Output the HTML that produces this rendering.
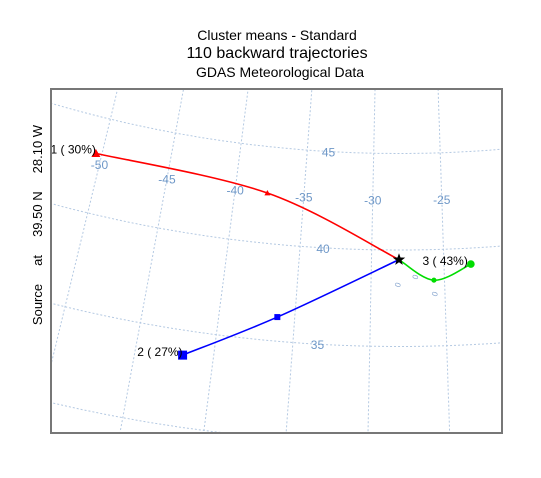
<!DOCTYPE html>
<html><head><meta charset="utf-8"><style>
html,body{margin:0;padding:0;background:#fff;overflow:hidden;width:541px;height:478px;}
svg{display:block;font-family:"Liberation Sans",Arial,sans-serif;}
</style></head><body>
<svg id="chart" width="541" height="478" viewBox="0 0 541 478">
<text x="277" y="40" font-size="14" text-anchor="middle">Cluster means - Standard</text>
<text x="277" y="58" font-size="16" text-anchor="middle">110 backward trajectories</text>
<text x="280" y="77" font-size="14" text-anchor="middle">GDAS Meteorological Data</text>
<text transform="translate(42,225) rotate(-90)" font-size="13" text-anchor="middle" xml:space="preserve">Source     at     39.50 N     28.10 W</text>
<defs><clipPath id="clip"><rect x="51" y="89" width="451" height="344"/></clipPath></defs>
<g id="grid" clip-path="url(#clip)"></g>
<g id="labels"></g>
<g id="series"></g>
<rect x="51" y="89" width="451" height="344" fill="none" stroke="#777" stroke-width="2"/>
</svg>
<script>
// Data (lon, lat)
const sourceLon = -28.1, sourceLat = 39.5;
const latTicks = [30, 35, 40, 45, 50];
const lonTicks = [-55, -50, -45, -40, -35, -30, -25, -20];
const lonLabels = [-50, -45, -40, -35, -30, -25];
const latLabels = [35, 40, 45];
const clusterNames = ["1 ( 30%)", "2 ( 27%)", "3 ( 43%)"];
const cluster1Lon = [-28.1, -37.65, -50.44];
const cluster1Lat = [39.5, 42.6, 43.1];
const cluster2Lon = [-28.1, -36.15, -41.97];
const cluster2Lat = [39.5, 36.25, 33.71];
const cluster3Lon = [-28.1, -25.72, -23.15];
const cluster3Lat = [39.5, 38.41, 39.17];

const NS = "http://www.w3.org/2000/svg";
const apexX = 399, apexY = -1076, rAt40 = 1326, pxPerDeg = 19.3, cone = 0.62;
function proj(lon, lat) {
  const r = rAt40 - (lat - 40) * pxPerDeg;
  const a = cone * (lon - sourceLon) * Math.PI / 180;
  return [apexX + r * Math.sin(a), apexY + r * Math.cos(a)];
}
function mk(tag, attrs, parent) {
  const e = document.createElementNS(NS, tag);
  for (const k in attrs) e.setAttribute(k, attrs[k]);
  parent.appendChild(e);
  return e;
}
const grid = document.getElementById('grid');
const labels = document.getElementById('labels');
const series = document.getElementById('series');
const gstyle = {fill: "none", stroke: "#b4c9e2", "stroke-width": 1, "stroke-dasharray": "2,2"};
latTicks.forEach(lat => {
  let d = "";
  for (let lon = -70; lon <= -5; lon += 0.5) { const p = proj(lon, lat); d += (d ? "L" : "M") + p[0].toFixed(1) + "," + p[1].toFixed(1); }
  const e = mk("path", Object.assign({d: d}, gstyle), grid);
  
  
});
lonTicks.forEach(lon => {
  let d = "";
  for (let lat = 25; lat <= 55; lat += 0.5) { const p = proj(lon, lat); d += (d ? "L" : "M") + p[0].toFixed(1) + "," + p[1].toFixed(1); }
  const e = mk("path", Object.assign({d: d}, gstyle), grid);
  
  
});
lonLabels.forEach(lon => {
  const p = proj(lon, 42.6);
  const t = mk("text", {x: p[0], y: p[1] + 5, "font-size": 12, fill: "#6f98c8", "text-anchor": "middle"}, labels);
  t.textContent = String(lon);
  
  
});
latLabels.forEach(lat => {
  const p = proj(-33.4, lat);
  const t = mk("text", {x: p[0], y: p[1] + 5, "font-size": 12, fill: "#6f98c8", "text-anchor": "middle"}, labels);
  t.textContent = String(lat);
  
  
});
[[-28.2, 38.2], [-27.0, 38.6], [-25.7, 37.7]].forEach(ll => {
  const p = proj(ll[0], ll[1]);
  const t = mk("text", {x: p[0], y: p[1] + 3, "font-size": 8, fill: "#8aa8d0", "text-anchor": "middle", transform: "rotate(-70 " + p[0] + " " + p[1] + ")"}, labels);
  t.textContent = "0";
  
  
});
function smoothPath(pts) {
  let d = "M" + pts[0][0] + "," + pts[0][1];
  for (let i = 0; i < pts.length - 1; i++) {
    const p0 = pts[Math.max(0, i - 1)], p1 = pts[i], p2 = pts[i + 1], p3 = pts[Math.min(pts.length - 1, i + 2)];
    const c1 = [p1[0] + (p2[0] - p0[0]) / 6, p1[1] + (p2[1] - p0[1]) / 6];
    const c2 = [p2[0] - (p3[0] - p1[0]) / 6, p2[1] - (p3[1] - p1[1]) / 6];
    d += "C" + c1.join(",") + " " + c2.join(",") + " " + p2.join(",");
  }
  return d;
}
function drawCluster(lons, lats, color, name, marker, midIdx, labelDx, labelDy) {
  const pts = lons.map((lon, i) => proj(lon, lats[i]));
  const line = mk("path", {d: smoothPath(pts), fill: "none", stroke: color, "stroke-width": 1.6}, series);
  
  
  [midIdx, pts.length - 1].forEach((idx, k) => {
    const p = pts[idx], s = k ? 4.5 : 3;
    let m;
    if (marker === "tri") m = mk("polygon", {points: `${p[0]},${p[1] - s} ${p[0] - s},${p[1] + s * 0.8} ${p[0] + s},${p[1] + s * 0.8}`, fill: color}, series);
    else if (marker === "sq") m = mk("rect", {x: p[0] - s, y: p[1] - s, width: 2 * s, height: 2 * s, fill: color}, series);
    else m = mk("circle", {cx: p[0], cy: p[1], r: s * 0.85, fill: color}, series);
    
    
  });
  const e = pts[pts.length - 1];
  const t = mk("text", {x: e[0] + labelDx, y: e[1] + labelDy, "font-size": 12, fill: "#000", "text-anchor": "end"}, series);
  t.textContent = name;
  
  
}
drawCluster(cluster1Lon, cluster1Lat, "#ff0000", clusterNames[0], "tri", 1, 0, 0);
drawCluster(cluster2Lon, cluster2Lat, "#0000ff", clusterNames[1], "sq", 1, 0, 1);
drawCluster(cluster3Lon, cluster3Lat, "#00dd00", clusterNames[2], "circ", 1, -3, 1);
const sp = proj(sourceLon, sourceLat);
let pstr = "";
for (let i = 0; i < 10; i++) {
  const r = i % 2 ? 2.6 : 6.5, a = -Math.PI / 2 + i * Math.PI / 5;
  pstr += (sp[0] + r * Math.cos(a)).toFixed(1) + "," + (sp[1] + r * Math.sin(a)).toFixed(1) + " ";
}
const star = mk("polygon", {points: pstr, fill: "#000"}, series);


</script>
</body></html>
